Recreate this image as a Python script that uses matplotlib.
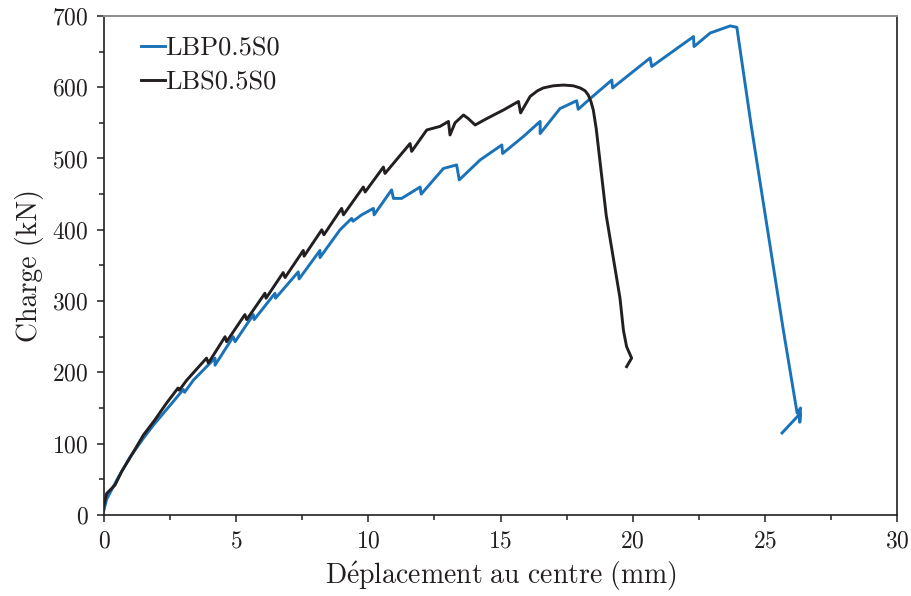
"""Load-deflection curves for the two beams (charge vs mid-span displacement)."""

import matplotlib

matplotlib.use("Agg")
import matplotlib.pyplot as plt
from matplotlib.ticker import MultipleLocator

plt.rcParams["font.family"] = ["cmr10", "DejaVu Serif"]
plt.rcParams["mathtext.fontset"] = "cm"
plt.rcParams["axes.formatter.use_mathtext"] = True

TEXT = "#231f20"
BLUE = "#1a72b8"
BLACK = "#231f20"

# LBP0.5S0 (blue)
lbp_x = [0.0, 0.1, 0.5, 1.0, 1.5, 1.87, 2.62, 3.0, 3.05, 3.38, 4.2, 4.2,
         4.89, 4.96, 5.65, 5.68, 6.47, 6.49, 7.35, 7.38, 8.17, 8.17, 8.93,
         9.37, 9.42, 9.75, 10.19, 10.22, 10.88, 10.95, 11.26, 11.96, 12.0,
         12.84, 13.34, 13.44, 14.23, 15.05, 15.08, 15.87, 16.50, 16.50, 17.25,
         17.88, 17.94, 18.39, 19.21, 19.24, 20.66, 20.72, 22.30, 22.32, 22.93,
         23.69, 23.94, 24.5, 25.7, 26.22, 26.35, 26.32, 26.33, 25.65]
lbp_y = [7, 22, 50, 82, 108, 126, 159, 176, 172, 189, 220, 210,
         250, 243, 281, 274, 311, 304, 341, 331, 371, 361, 400,
         416, 412, 421, 430, 421, 456, 444, 444, 460, 450,
         486, 491, 470, 498, 519, 507, 531, 552, 535, 570,
         581, 569, 584, 610, 599, 641, 629, 671, 657, 676,
         686, 684, 542, 259, 143, 150, 130, 142, 115]

# LBS0.5S0 (black)
lbs_x = [0.0, 0.1, 0.42, 0.67, 1.11, 1.49, 1.9, 2.37, 2.8, 2.85, 3.13,
         3.88, 3.95, 4.58, 4.64, 5.33, 5.40, 6.09, 6.13, 6.78, 6.85, 7.54,
         7.57, 8.24, 8.32, 8.99, 9.06, 9.81, 9.88, 10.57, 10.63, 11.58,
         11.64, 12.21, 12.71, 13.03, 13.09, 13.28, 13.60, 13.78, 14.04, 14.48,
         15.11, 15.68, 15.76, 16.12, 16.4, 16.62, 17.0, 17.38, 17.75, 18.01,
         18.2, 18.32, 18.42, 18.51, 18.62, 19.0, 19.52, 19.65, 19.77, 19.96,
         19.77]
lbs_y = [14, 30, 42, 61, 88, 112, 132, 157, 178, 175, 189,
         220, 213, 250, 243, 281, 274, 311, 304, 340, 333, 371,
         363, 400, 393, 430, 421, 460, 453, 488, 479, 521,
         510, 540, 545, 552, 533, 550, 561, 556, 547, 556,
         568, 580, 564, 587, 595, 599, 602, 603, 602, 599,
         595, 589, 580, 568, 542, 420, 304, 259, 236, 220,
         208]

fig = plt.figure(figsize=(9.12, 5.96), dpi=100)
ax = fig.add_axes([0.114, 0.136, 0.8696, 0.8373])

ax.plot(lbp_x, lbp_y, color=BLUE, lw=2.1, label="LBP0.5S0")
ax.plot(lbs_x, lbs_y, color=BLACK, lw=2.1, label="LBS0.5S0")

ax.set_xlim(0, 30)
ax.set_ylim(0, 700)
ax.xaxis.set_major_locator(MultipleLocator(5))
ax.xaxis.set_minor_locator(MultipleLocator(2.5))
ax.yaxis.set_major_locator(MultipleLocator(100))
ax.yaxis.set_minor_locator(MultipleLocator(50))

ax.tick_params(which="both", direction="out", colors=TEXT, labelsize=17,
               top=False, right=False, width=1.1)
ax.tick_params(which="major", length=5, pad=6)
ax.tick_params(which="minor", length=3.5)

for side in ("left", "bottom", "right"):
    ax.spines[side].set_color(TEXT)
    ax.spines[side].set_linewidth(1.2)
ax.spines["top"].set_color("#8c8c8c")
ax.spines["top"].set_linewidth(1.4)

ax.set_xlabel(r"$\mathrm{D\acute{e}placement\ au\ centre\ (mm)}$",
              fontsize=20, color=TEXT, labelpad=5)
ax.set_ylabel("Charge (kN)", fontsize=20, color=TEXT, labelpad=6)

leg = ax.legend(loc="upper left", frameon=False, fontsize=19,
                handlelength=0.9, handletextpad=0.0, labelspacing=0.38,
                borderaxespad=0.5, bbox_to_anchor=(0.017, 1.006))
for t in leg.get_texts():
    t.set_color(TEXT)

fig.savefig("out.png", dpi=100)
